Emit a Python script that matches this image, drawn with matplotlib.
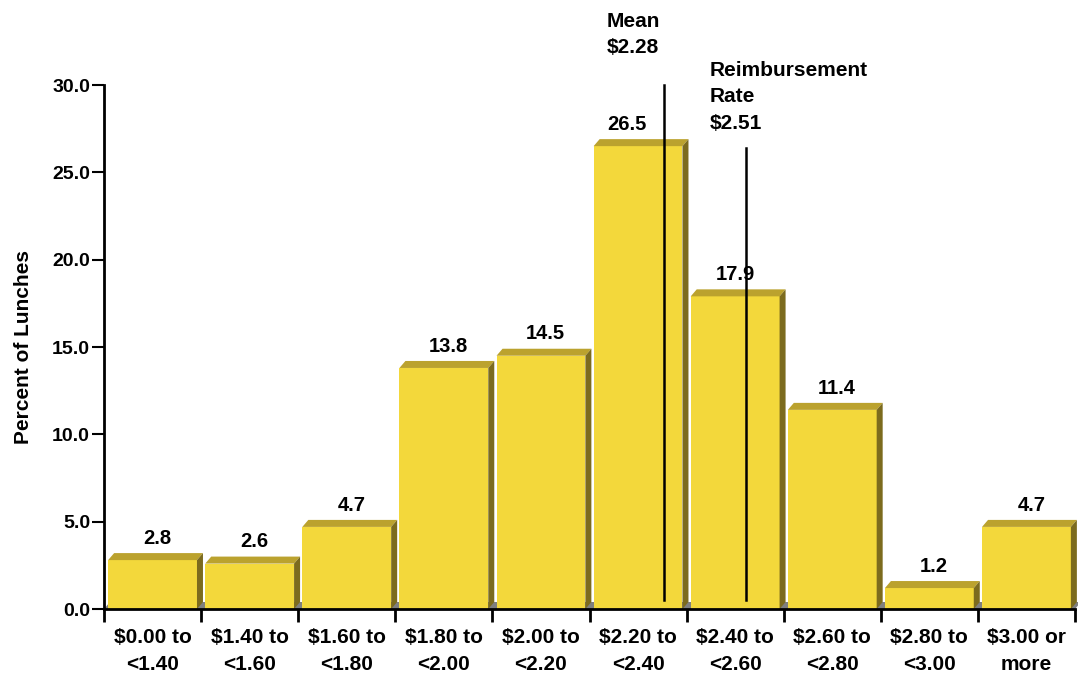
import numpy as np
import matplotlib.pyplot as plt
from matplotlib.patches import Polygon

# =========================
# Data
# =========================
categories = ["$0.00 to\n<1.40", "$1.40 to\n<1.60", "$1.60 to\n<1.80",
              "$1.80 to\n<2.00", "$2.00 to\n<2.20", "$2.20 to\n<2.40",
              "$2.40 to\n<2.60", "$2.60 to\n<2.80", "$2.80 to\n<3.00",
              "$3.00 or\nmore"]
percent = [2.8, 2.6, 4.7, 13.8, 14.5, 26.5, 17.9, 11.4, 1.2, 4.7]

mean_x = 5.77          # position of the mean line on the category axis
mean_top = 30.0
reimb_x = 6.61         # position of the reimbursement rate line
reimb_top = 26.4
line_bottom = 0.5

yticks = np.arange(0, 30.1, 5)

# =========================
# Style
# =========================
plt.rcParams["font.family"] = ["Liberation Sans", "DejaVu Sans"]
plt.rcParams["font.weight"] = "bold"

front_color = "#F3D83B"
top_color = "#BBA22E"
side_color = "#7C6B1E"
floor_color = "#7F7F7F"

fig = plt.figure(figsize=(10.78, 6.75), dpi=100)
ax = fig.add_axes([104 / 1078, 66 / 675, 971 / 1078, 524 / 675])
ax.set_xlim(0, len(categories))
ax.set_ylim(0, 30)

# depth of the fake 3d effect, in pixels -> data units
depth_px_x, depth_px_y = 6, 7
dx = depth_px_x * len(categories) / 971
dy = depth_px_y * 30 / 524

x = np.arange(len(categories))
bar_width = 0.915
left = x + 0.5 - bar_width / 2

# floor
ax.add_patch(Polygon([(0, 0), (len(categories), 0),
                      (len(categories) + dx, dy), (dx, dy)],
                     closed=True, facecolor=floor_color, edgecolor="none",
                     zorder=1, clip_on=False))

bars = ax.bar(left, percent, width=bar_width, align="edge",
              color=front_color, edgecolor="none", zorder=2)

for b in bars:
    x0 = b.get_x()
    x1 = x0 + b.get_width()
    h = b.get_height()
    ax.add_patch(Polygon([(x0, h), (x1, h), (x1 + dx, h + dy), (x0 + dx, h + dy)],
                         closed=True, facecolor=top_color, edgecolor="none",
                         zorder=2, clip_on=False))
    ax.add_patch(Polygon([(x1, 0), (x1 + dx, dy), (x1 + dx, h + dy), (x1, h)],
                         closed=True, facecolor=side_color, edgecolor="none",
                         zorder=2, clip_on=False))

# value labels
label_shift = [0.05, 0.05, 0.05, 0.05, 0.05, -0.11, 0.0, 0.05, 0.05, 0.05]
for b, v, s in zip(bars, percent, label_shift):
    ax.text(b.get_x() + b.get_width() / 2 + s, v + dy + 0.3, f"{v:.1f}",
            ha="center", va="bottom", fontsize=14.5, fontweight="bold", zorder=4)

# mean and reimbursement lines
ax.plot([mean_x, mean_x], [line_bottom, mean_top], color="black", lw=1.8,
        zorder=3, clip_on=False)
ax.plot([reimb_x, reimb_x], [line_bottom, reimb_top], color="black", lw=1.8,
        zorder=3, clip_on=False)

ax.text(mean_x - 0.59, 34.2, "Mean\n$2.28", ha="left", va="top",
        fontsize=15, fontweight="bold", linespacing=1.5)
ax.text(reimb_x - 0.37, 31.4, "Reimbursement\nRate\n$2.51",
        ha="left", va="top", fontsize=15, fontweight="bold",
        linespacing=1.5)

# =========================
# Axes
# =========================
for side in ["top", "right"]:
    ax.spines[side].set_visible(False)
ax.spines["left"].set_linewidth(2)
ax.spines["bottom"].set_linewidth(2)
ax.spines["left"].set_zorder(5)
ax.spines["bottom"].set_zorder(5)

ax.set_yticks(yticks)
ax.set_yticklabels([f"{t:.1f}" for t in yticks], fontsize=14, fontweight="bold")
ax.tick_params(axis="y", length=9, width=1.5, pad=1)

ax.set_xticks(np.arange(len(categories) + 1))
ax.set_xticklabels([])
ax.set_xticks(x + 0.5, minor=True)
ax.set_xticklabels(categories, minor=True, fontsize=15, fontweight="bold",
                   linespacing=1.5)
ax.tick_params(axis="x", which="major", length=9, width=2)
ax.tick_params(axis="x", which="minor", length=0, pad=14)

ax.set_ylabel("Percent of Lunches", fontsize=15, fontweight="bold", labelpad=14)

plt.savefig("out.png", dpi=100)
